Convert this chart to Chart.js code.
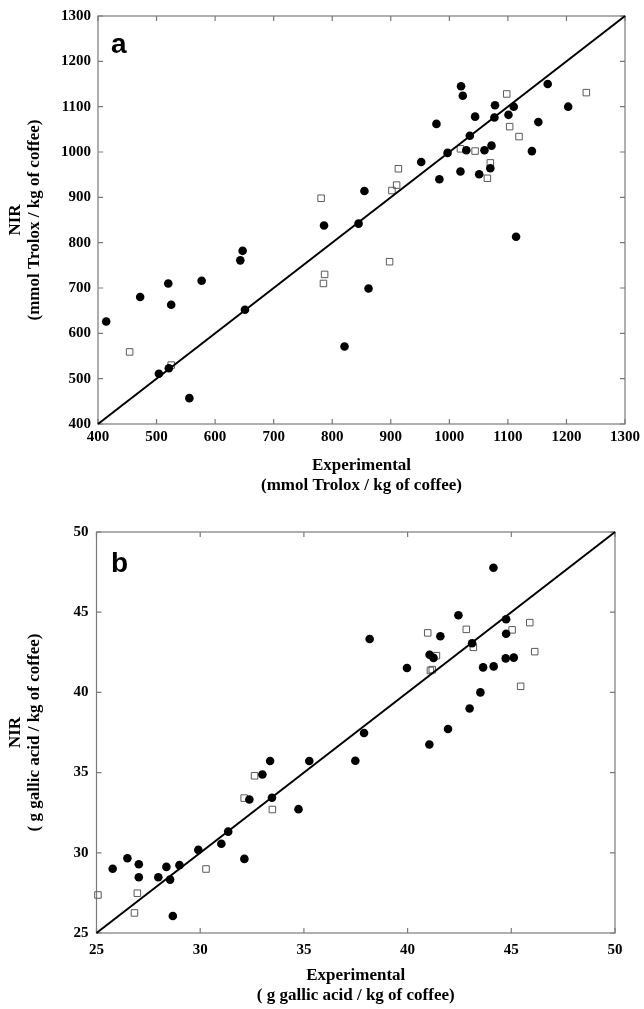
<!DOCTYPE html>
<html><head><meta charset="utf-8">
<script src="https://cdn.jsdelivr.net/npm/chart.js@4"></script>
<style>
html,body{margin:0;padding:0;background:#fff;width:644px;height:1009px;overflow:hidden}
#ca{position:absolute;left:0;top:0;width:644px;height:505px}
#cb{position:absolute;left:0;top:505px;width:644px;height:504px}
.lbl{position:absolute;font:bold 28px "Liberation Sans",Arial,sans-serif;line-height:28px;color:#000}
</style></head><body>
<canvas id="ca" width="644" height="505"></canvas>
<canvas id="cb" width="644" height="504"></canvas>
<div class="lbl" style="left:111px;top:30px">a</div>
<div class="lbl" style="left:111px;top:549px">b</div>
<script>
// ---- tick labels ----
const aTicks = [400,500,600,700,800,900,1000,1100,1200,1300];
const bTicks = [25,30,35,40,45,50];

// ---- panel a (antioxidant capacity, mmol Trolox / kg) ----
const aCircleX = [414,472,504,520,525,521,556,577,643,647,651,786,821,845,862,855,952,983,978,997,1020,1023,1019,1029,1035,1044,1051,1060,1072,1070,1077,1078,1101,1110,1141,1152,1168,1203,1114];
const aCircleY = [626,680,511,710,663,523,457,716,761,782,652,838,571,842,699,914,978,940,1062,998,1145,1124,957,1004,1036,1078,951,1004,1014,964,1076,1103,1082,1100,1002,1066,1150,1100,813];
const aSquareX = [454,525,781,787,785,898,902,910,913,1019,1044,1070,1065,1098,1103,1119,1234];
const aSquareY = [559,530,898,730,710,758,915,927,963,1007,1002,976,942,1128,1056,1034,1131];
const aLine = [400,1300];

// ---- panel b (phenolics, g gallic acid / kg) ----
const bCircleX = [44.14,42.45,44.75,41.58,44.75,38.17,43.11,41.06,41.25,44.73,45.12,39.97,43.64,44.15,43.51,42.99,37.9,41.95,41.05,37.48,35.26,33.37,33.0,32.37,33.46,34.74,31.35,31.02,29.91,32.13,26.49,25.78,27.04,27.04,27.98,28.37,29.0,28.55,28.68];
const bCircleY = [47.77,44.81,44.56,43.5,43.66,43.33,43.06,42.35,42.15,42.12,42.17,41.52,41.56,41.62,40.0,39.0,37.47,37.72,36.75,35.74,35.72,35.72,34.88,33.32,33.43,32.72,31.32,30.56,30.18,29.62,29.66,29.01,29.29,28.48,28.48,29.12,29.23,28.33,26.06];
const bSquareX = [45.89,40.97,42.83,45.04,43.17,41.39,41.1,41.19,46.13,45.45,32.62,32.12,33.48,30.28,25.07,26.97,26.83];
const bSquareY = [44.35,43.71,43.93,43.9,42.81,42.29,41.37,41.42,42.54,40.38,34.8,33.41,32.7,28.99,27.37,27.48,26.25];
const bLine = [25,50];

function pts(xs, ys){ return xs.map((x,i)=>({x:x, y:ys[i]})); }

const frameTicks = {
  id:'frameTicks',
  beforeDatasetsDraw(chart){
    const {ctx, chartArea:{left,right,top,bottom}, scales:{x,y}} = chart;
    ctx.save();
    ctx.strokeStyle = '#7a7a7a';
    ctx.lineWidth = 1.2;
    ctx.strokeRect(left, top, right-left, bottom-top);
    ctx.beginPath();
    const L = 5;
    x.ticks.forEach(t=>{
      const px = x.getPixelForValue(t.value);
      ctx.moveTo(px,bottom); ctx.lineTo(px,bottom-L);
      ctx.moveTo(px,top); ctx.lineTo(px,top+L);
    });
    y.ticks.forEach(t=>{
      const py = y.getPixelForValue(t.value);
      ctx.moveTo(left,py); ctx.lineTo(left+L,py);
      ctx.moveTo(right,py); ctx.lineTo(right-L,py);
    });
    ctx.stroke();
    ctx.restore();
  }
};

const tickFont = {family:'"Liberation Serif","Times New Roman",serif', size:15, weight:'bold'};
const titleFontY = {family:'"Liberation Serif","Times New Roman",serif', size:17, weight:'bold', lineHeight:1.12};
const titleFontX = {family:'"Liberation Serif","Times New Roman",serif', size:17, weight:'bold', lineHeight:1.18};
const plain = v => String(v);

function makeChart(id, p){
  return new Chart(document.getElementById(id), {
    type:'scatter',
    data:{datasets:[
      {data: pts(p.lineX, p.lineX), showLine:true, borderColor:'#000', borderWidth:2, pointRadius:0, order:0, clip:false},
      {data: pts(p.cx, p.cy), pointStyle:'circle', pointRadius:4.3, backgroundColor:'#000', borderColor:'#000', borderWidth:0, order:1, clip:false},
      {data: pts(p.sx, p.sy), pointStyle:'rect', pointRadius:4.6, backgroundColor:'rgba(255,255,255,0)', borderColor:'#5a5a5a', borderWidth:1, order:2, clip:false}
    ]},
    options:{
      responsive:false, animation:false, devicePixelRatio:1,
      layout:{padding:{top:p.padTop, right:p.padRight, left:0, bottom:0}},
      plugins:{legend:{display:false}, tooltip:{enabled:false}},
      scales:{
        x:{type:'linear', min:p.ticks[0], max:p.ticks[p.ticks.length-1],
           afterBuildTicks:s=>{ s.ticks = p.ticks.map(v=>({value:v})); },
           afterFit:s=>{ s.height = p.xHeight; },
           grid:{display:false, drawTicks:false}, border:{display:false},
           ticks:{font:tickFont, color:'#000', padding:p.xTickPad, maxRotation:0, autoSkip:false, callback:plain},
           title:{display:true, text:p.xTitle, font:titleFontX, color:'#000', padding:{top:0,bottom:p.xTitlePad}}},
        y:{type:'linear', min:p.ticks[0], max:p.ticks[p.ticks.length-1],
           afterBuildTicks:s=>{ s.ticks = p.ticks.map(v=>({value:v})); },
           afterFit:s=>{ s.width = p.yWidth; },
           grid:{display:false, drawTicks:false}, border:{display:false},
           ticks:{font:tickFont, color:'#000', padding:p.yTickPad, autoSkip:false, callback:plain},
           title:{display:true, text:p.yTitle, font:titleFontY, color:'#000', padding:{top:p.yTitlePad,bottom:0}}}
      }
    },
    plugins:[frameTicks]
  });
}

makeChart('ca', {
  ticks:aTicks, cx:aCircleX, cy:aCircleY, sx:aSquareX, sy:aSquareY, lineX:aLine,
  padTop:16, padRight:18, yWidth:98, xHeight:81, xTickPad:4, yTickPad:7,
  xTitle:['Experimental','(mmol Trolox / kg of coffee)'], xTitlePad:9,
  yTitle:['NIR','(mmol Trolox / kg of coffee)'], yTitlePad:6
});
makeChart('cb', {
  ticks:bTicks, cx:bCircleX, cy:bCircleY, sx:bSquareX, sy:bSquareY, lineX:bLine,
  padTop:27, padRight:29, yWidth:96.5, xHeight:76, xTickPad:8, yTickPad:8,
  xTitle:['Experimental','( g gallic acid / kg of coffee)'], xTitlePad:3,
  yTitle:['NIR','( g gallic acid / kg of coffee)'], yTitlePad:6
});
</script>
</body></html>
